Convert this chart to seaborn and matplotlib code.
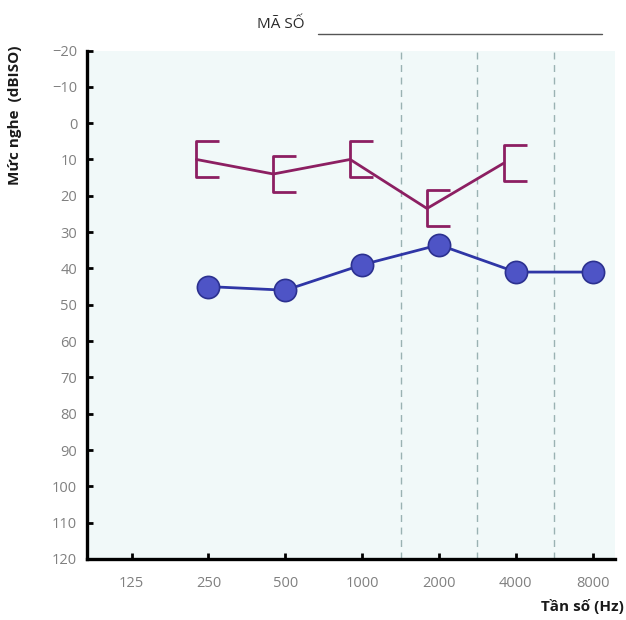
import matplotlib
matplotlib.use('Agg')
import matplotlib.pyplot as plt
import matplotlib.transforms as mtransforms
from matplotlib.path import Path
import numpy as np
import pandas as pd
import seaborn as sns

# audiogram values
freqs = [125, 250, 500, 1000, 2000, 4000, 8000]
freq_labels = ['125', '250', '500', '1000', '2000', '4000', '8000']
air_freqs = [250, 500, 1000, 2000, 4000, 8000]
air_db = [45, 46, 39, 33.5, 41, 41]
bone_freqs = [250, 500, 1000, 2000, 4000]
bone_db = [10, 14, 10, 23.5, 11]
y_ticks = list(range(-20, 130, 10))

air = pd.DataFrame({'freq': air_freqs, 'db': air_db})
bone = pd.DataFrame({'freq': bone_freqs, 'db': bone_db})

sns.set_style('ticks')
plt.rcParams['font.family'] = ['Open Sans', 'DejaVu Sans']

fig = plt.figure(figsize=(6.26, 6.2), dpi=100)
ax = fig.add_axes([87 / 626, 1 - 559 / 620, (615 - 87) / 626, (559 - 50.5) / 620])
ax.set_facecolor('#f1f9f9')

# masked bone conduction "[" marker
bracket = Path([(1.27, 1), (0, 1), (0, -1), (1.27, -1)],
               [Path.MOVETO, Path.LINETO, Path.LINETO, Path.LINETO])

sns.lineplot(data=bone, x='freq', y='db', ax=ax, color='#8c1f62', lw=2,
             marker=bracket, markersize=33, markerfacecolor='none',
             markeredgecolor='#8c1f62', markeredgewidth=2)
# brackets sit a little left of the frequency line
shift = mtransforms.ScaledTranslation(-12 / 100, 0, fig.dpi_scale_trans)
ax.lines[-1].set_transform(ax.transData + shift)

sns.lineplot(data=air, x='freq', y='db', ax=ax, color='#2f36a6', lw=2,
             marker='o', markersize=16, markerfacecolor='#4e54c6',
             markeredgecolor='#2c3190', markeredgewidth=1.2)

ax.set_xscale('log', base=2)
ax.set_xlim(125 * 2 ** -0.58, 125 * 2 ** 6.29)
ax.set_ylim(120, -20)

# dashed half-octave lines between 1000-2000, 2000-4000, 4000-8000
for a, b in zip(freqs[3:-1], freqs[4:]):
    ax.axvline(np.sqrt(a * b), color='#9ab2b3', lw=1, ls=(0, (5, 4)), zorder=0.5)

ax.set_xticks(freqs)
ax.set_xticklabels(freq_labels)
ax.minorticks_off()
ax.set_yticks(y_ticks)
ax.set_yticklabels([f'\u2212{abs(v)}' if v < 0 else str(v) for v in y_ticks])

ax.tick_params(axis='both', direction='in', length=4, width=2, color='black',
               labelcolor='#808080', labelsize=10.5)
ax.tick_params(axis='y', pad=7)
ax.tick_params(axis='x', pad=12)

for side in ['top', 'right']:
    ax.spines[side].set_visible(False)
for side in ['left', 'bottom']:
    ax.spines[side].set_linewidth(2.4)
    ax.spines[side].set_color('black')

ax.set_xlabel('')
ax.set_ylabel('')
fig.text(15 / 626, 1 - 115 / 620, 'Mức nghe  (dBISO)', rotation=90, fontsize=11,
         fontweight='bold', ha='center', va='center', color='#1a1a1a')
fig.text(624 / 626, 1 - 607 / 620, 'Tần số (Hz)', fontsize=11, fontweight='bold',
         ha='right', va='center', color='#1a1a1a')

fig.text(281 / 626, 1 - 25 / 620, 'MÃ SỐ', fontsize=11, ha='center', va='center',
         color='#2a2a2a')
fig.add_artist(plt.Line2D([318 / 626, 602 / 626], [1 - 34 / 620, 1 - 34 / 620],
                          color='#555555', lw=1))

fig.savefig('out.png', dpi=100, facecolor='white')
